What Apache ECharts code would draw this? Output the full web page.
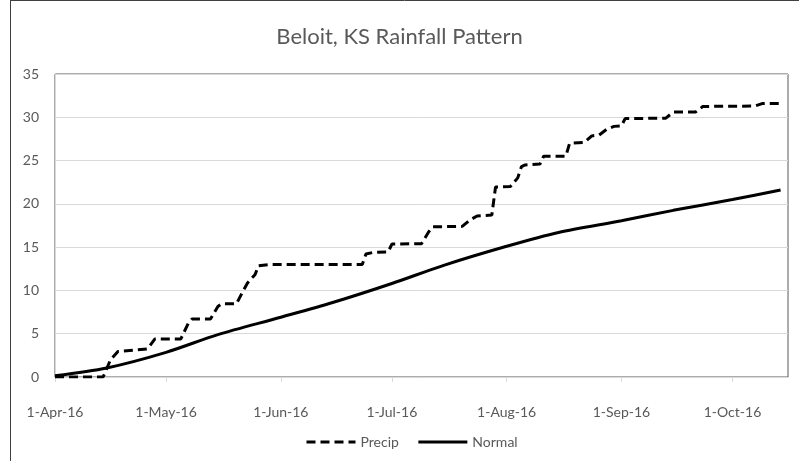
<!DOCTYPE html>
<html>
<head>
<meta charset="utf-8">
<script src="https://cdn.jsdelivr.net/npm/echarts@6/dist/echarts.min.js"></script>
<style>
html,body{margin:0;padding:0;background:#fff;}
#chart{width:799px;height:461px;}
</style>
</head>
<body>
<div id="chart"></div>
<script>
const titleText = 'Beloit, KS Rainfall Pattern';
const seriesNames = ['Precip', 'Normal'];

const precipDates = ['2016-04-01','2016-04-14','2016-04-16','2016-04-18','2016-04-26','2016-04-28','2016-05-05','2016-05-07','2016-05-08','2016-05-13','2016-05-15','2016-05-16','2016-05-20','2016-05-22','2016-05-23','2016-05-25','2016-05-26','2016-05-29','2016-06-23','2016-06-24','2016-06-26','2016-06-30','2016-07-01','2016-07-09','2016-07-11','2016-07-12','2016-07-20','2016-07-22','2016-07-24','2016-07-28','2016-07-29','2016-08-02','2016-08-04','2016-08-05','2016-08-06','2016-08-10','2016-08-11','2016-08-17','2016-08-18','2016-08-22','2016-08-24','2016-08-26','2016-08-28','2016-08-30','2016-09-01','2016-09-02','2016-09-13','2016-09-15','2016-09-21','2016-09-23','2016-10-07','2016-10-09','2016-10-14'];
const precipValues = [0,0,2.0,2.95,3.25,4.4,4.4,6.2,6.7,6.7,8.15,8.45,8.45,10.1,10.85,11.8,12.85,13.0,13.0,14.2,14.4,14.45,15.35,15.4,16.8,17.35,17.4,18.1,18.6,18.7,21.95,22.0,23.0,24.3,24.5,24.6,25.5,25.5,27.0,27.1,27.85,27.95,28.6,28.95,29.0,29.85,29.9,30.6,30.6,31.25,31.3,31.58,31.6];

const normalDates = ['2016-04-01','2016-04-15','2016-05-01','2016-05-15','2016-06-01','2016-06-15','2016-07-01','2016-07-15','2016-08-01','2016-08-15','2016-09-01','2016-09-15','2016-10-01','2016-10-14'];
const normalValues = [0.15,1.05,2.85,4.9,6.9,8.6,10.8,12.9,15.1,16.7,18.05,19.25,20.5,21.6];

const xTickDates = ['2016-04-01','2016-05-01','2016-06-01','2016-07-01','2016-08-01','2016-09-01','2016-10-01'];
const xAxisStart = '2016-04-01';
const xAxisEnd = '2016-10-16';
const yMin = 0, yMax = 35, yStep = 5;

const monthNames = ['Jan','Feb','Mar','Apr','May','Jun','Jul','Aug','Sep','Oct','Nov','Dec'];
function toTime(s){ const p = s.split('-').map(Number); return new Date(p[0], p[1]-1, p[2]).getTime(); }
function fmt(v){ const d = new Date(v); return d.getDate() + '-' + monthNames[d.getMonth()] + '-' + String(d.getFullYear()).slice(2); }

const precipData = precipDates.map((d,i)=>[toTime(d), precipValues[i]]);
const normalData = normalDates.map((d,i)=>[toTime(d), normalValues[i]]);
const tickTimes = xTickDates.map(toTime);

const FONT = 'Lato, "Open Sans", sans-serif';
const TXT = '#595959';

const chart = echarts.init(document.getElementById('chart'), null, {renderer:'canvas'});
chart.setOption({
  animation: false,
  backgroundColor: '#fff',
  textStyle: {fontFamily: FONT},
  title: {
    text: titleText, left: 'center', top: 21,
    textStyle: {fontFamily: FONT, fontSize: 22, fontWeight: 'normal', color: TXT}
  },
  grid: {
    left: 55, right: 11, top: 74, bottom: 84,
    show: true, borderColor: '#595959', borderWidth: 1, backgroundColor: 'transparent'
  },
  legend: {
    left: 300, top: 430,
    itemWidth: 49, itemHeight: 14, itemGap: 18,
    itemStyle: {opacity: 0},
    lineStyle: {width: 3},
    textStyle: {fontFamily: FONT, fontSize: 14, color: TXT},
    data: seriesNames
  },
  xAxis: {
    type: 'value',
    min: toTime(xAxisStart), max: toTime(xAxisEnd),
    axisLine: {show: true, lineStyle: {color: '#d9d9d9', width: 1}},
    axisTick: {show: true, length: 5, lineStyle: {color: '#d9d9d9'}, customValues: tickTimes},
    axisLabel: {
      customValues: tickTimes, formatter: fmt,
      fontFamily: FONT, fontSize: 14, color: TXT, margin: 28
    },
    splitLine: {show: false}
  },
  yAxis: {
    type: 'value', min: yMin, max: yMax, interval: yStep,
    axisLine: {show: true, lineStyle: {color: '#d9d9d9'}},
    axisTick: {show: false},
    axisLabel: {fontFamily: FONT, fontSize: 14, color: TXT, margin: 16},
    splitLine: {show: true, lineStyle: {color: '#d9d9d9', width: 1}}
  },
  series: [
    {
      name: seriesNames[0], type: 'line', data: precipData,
      symbol: 'none', smooth: false,
      lineStyle: {color: '#000', width: 3, type: [9, 5], cap: 'butt'},
      itemStyle: {color: '#000'},
      z: 3
    },
    {
      name: seriesNames[1], type: 'line', data: normalData,
      symbol: 'none', smooth: 0.3,
      lineStyle: {color: '#000', width: 3, type: 'solid'},
      itemStyle: {color: '#000'},
      z: 3
    }
  ],
  graphic: [
    {type: 'line', shape: {x1: 10.5, y1: 0, x2: 10.5, y2: 461}, style: {stroke: '#404040', lineWidth: 1}, silent: true},
    {type: 'line', shape: {x1: 10, y1: 0.5, x2: 799, y2: 0.5}, style: {stroke: '#404040', lineWidth: 1}, silent: true}
  ]
});
</script>
</body>
</html>
